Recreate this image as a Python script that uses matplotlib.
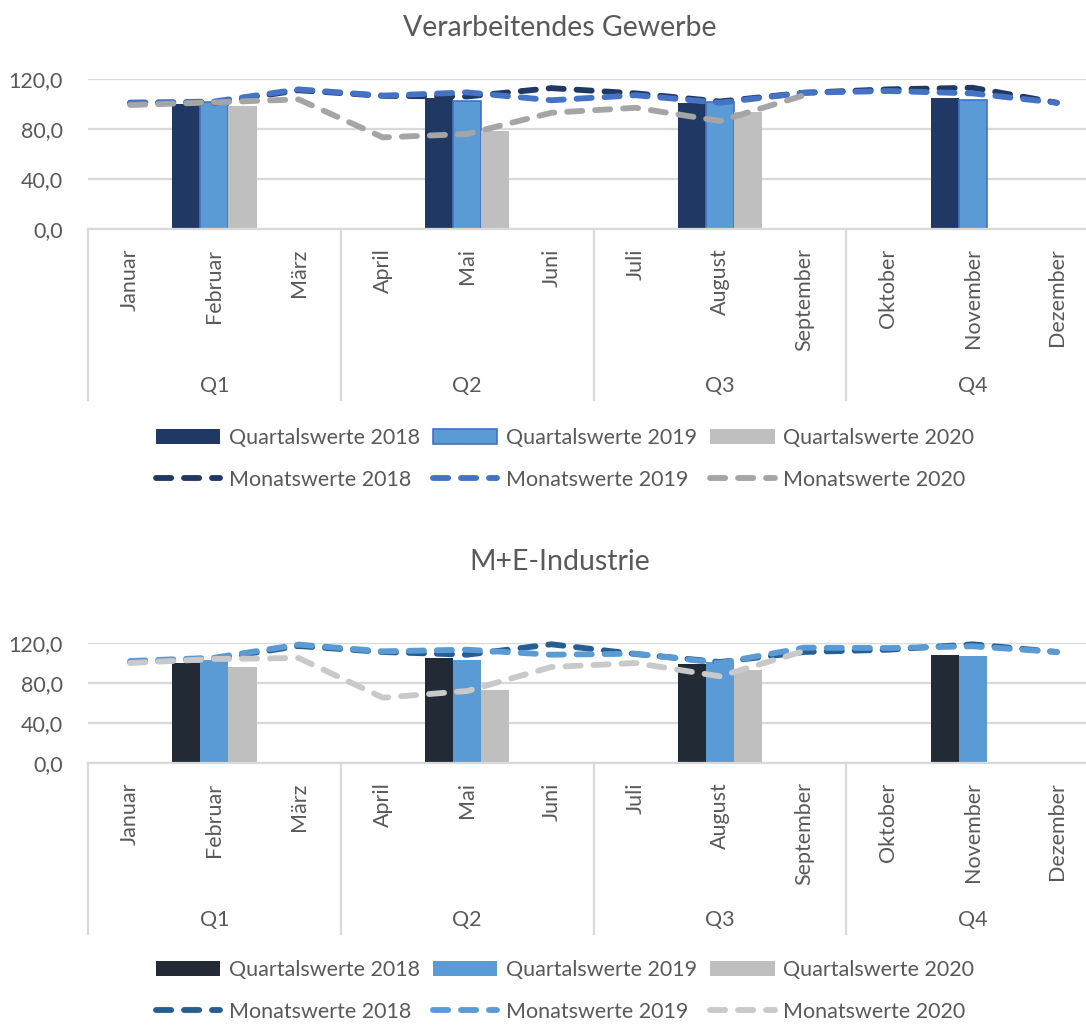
import numpy as np
import matplotlib
matplotlib.use("Agg")
import matplotlib.pyplot as plt
from matplotlib.patches import Patch
from matplotlib.lines import Line2D
from matplotlib.transforms import blended_transform_factory

plt.rcParams['font.family'] = ['Lato', 'DejaVu Sans']

# ---- data ----
months = ["Januar", "Februar", "März", "April", "Mai", "Juni", "Juli",
          "August", "September", "Oktober", "November", "Dezember"]
quarters = ["Q1", "Q2", "Q3", "Q4"]
years = ["2018", "2019", "2020"]

# Verarbeitendes Gewerbe
vg_quartal_2018 = [100.0, 105.0, 101.0, 104.5]
vg_quartal_2019 = [102.0, 102.7, 101.3, 103.0]
vg_quartal_2020 = [98.4, 78.7, 93.9, np.nan]
vg_monat_2018 = [101.0, 101.0, 111.0, 106.5, 106.0, 112.7, 108.5, 102.0, 109.0, 111.7, 113.0, 101.0]
vg_monat_2019 = [101.0, 102.0, 111.7, 106.7, 109.3, 103.0, 107.0, 101.0, 109.0, 110.4, 108.5, 101.0]
vg_monat_2020 = [99.2, 101.3, 103.7, 73.3, 76.0, 93.0, 97.0, 86.4, 107.0,
                 np.nan, np.nan, np.nan]

# M+E-Industrie
me_quartal_2018 = [100.0, 105.3, 99.3, 108.0]
me_quartal_2019 = [102.7, 103.3, 101.0, 106.7]
me_quartal_2020 = [96.0, 73.3, 93.3, np.nan]
me_monat_2018 = [101.0, 104.0, 117.0, 111.0, 108.3, 118.7, 109.0, 101.0, 111.0, 113.3, 118.7, 111.0]
me_monat_2019 = [102.0, 105.3, 118.4, 111.7, 113.3, 108.3, 109.3, 100.0, 115.3, 115.0, 116.7, 111.0]
me_monat_2020 = [100.0, 104.0, 105.0, 65.3, 72.0, 96.0, 100.0, 86.7, 112.0,
                 np.nan, np.nan, np.nan]

yticks = [0, 40, 80, 120]
ytick_labels = ["0,0", "40,0", "80,0", "120,0"]

TXT = "#595959"
GRID = "#D9D9D9"

W, H = 1086, 1025
fig = plt.figure(figsize=(W / 100, H / 100), dpi=100)


def panel(top_px, bottom_px, title, title_y, q_vals, m_vals, bar_cols, bar_edges,
          line_cols, leg_y):
    ax = fig.add_axes([88 / W, 1 - bottom_px / H, 1011 / W, (bottom_px - top_px) / H])
    x = np.arange(len(months))
    centers = np.arange(len(quarters)) * 3 + 1
    bw = 1 / 3
    handles = []
    for i, yr in enumerate(years):
        ax.bar(centers + (i - 1) * bw, q_vals[i], width=bw, color=bar_cols[i],
               edgecolor=bar_edges[i], linewidth=1.2 if bar_edges[i] != 'none' else 0,
               zorder=2)
    # later series drawn on top, like Excel
    for i, yr in enumerate(years):
        ax.plot(x, m_vals[i], color=line_cols[i], lw=4.2, ls=(0, (2.6, 2.2)),
                dash_capstyle='round', solid_capstyle='round', zorder=3 + i * 0.1,
                clip_on=False)
    for i, yr in enumerate(years):
        handles.append(Patch(facecolor=bar_cols[i], edgecolor=bar_edges[i],
                             linewidth=1.2 if bar_edges[i] != 'none' else 0,
                             label="Quartalswerte " + yr))
        handles.append(Line2D([], [], color=line_cols[i], lw=4.2, ls=(0, (2.6, 2.2)),
                              dash_capstyle='round', label="Monatswerte " + yr))

    ax.set_xlim(-0.5, len(months) - 0.5)
    ax.set_ylim(0, 120)
    ax.set_yticks(yticks)
    ax.set_yticklabels(ytick_labels, fontsize=15.5, color=TXT)
    ax.tick_params(axis='y', length=0, pad=18)
    ax.yaxis.grid(True, color=GRID, lw=1.6, zorder=0)
    ax.set_axisbelow(True)
    for s in ['top', 'right', 'left']:
        ax.spines[s].set_visible(False)
    ax.spines['bottom'].set_color(GRID)
    ax.spines['bottom'].set_linewidth(1.6)
    ax.set_xticks(x)
    ax.set_xticklabels(months, rotation=90, fontsize=15.5, color=TXT, va='top')
    ax.tick_params(axis='x', length=0, pad=14)

    # multi-level category axis: quarter separators and labels
    trans = blended_transform_factory(ax.transData, ax.transAxes)
    depth = 171 / (bottom_px - top_px)
    for k in range(len(quarters) + 1):
        xs = k * 3 - 0.5
        ax.plot([xs, xs], [0, -depth], color=GRID, lw=1.6, transform=trans,
                clip_on=False)
    qdepth = 157 / (bottom_px - top_px)
    for k, q in enumerate(quarters):
        ax.text(centers[k], -qdepth, q, transform=trans, ha='center', va='center',
                fontsize=15.5, color=TXT)

    fig.text(560 / W, 1 - title_y / H, title, ha='center', va='center',
             fontsize=20.5, color=TXT)

    fig.legend(handles=handles, ncol=3, loc='center', bbox_to_anchor=(565 / W, 1 - leg_y / H),
               frameon=False, fontsize=15.5, labelcolor=TXT, handlelength=3.0,
               handleheight=0.65, handletextpad=0.4, columnspacing=0.6,
               labelspacing=1.0)


panel(79, 229, "Verarbeitendes Gewerbe", 28,
      [vg_quartal_2018, vg_quartal_2019, vg_quartal_2020],
      [vg_monat_2018, vg_monat_2019, vg_monat_2020],
      ["#203864", "#5B9BD5", "#BFBFBF"], ['none', "#4472C4", 'none'],
      ["#203864", "#4472C4", "#A5A5A5"], 459)

panel(643, 763, "M+E-Industrie", 562,
      [me_quartal_2018, me_quartal_2019, me_quartal_2020],
      [me_monat_2018, me_monat_2019, me_monat_2020],
      ["#222A35", "#5B9BD5", "#BFBFBF"], ['none', 'none', 'none'],
      ["#255E91", "#5B9BD5", "#C9C9C9"], 991)

fig.savefig("out.png", dpi=100)
